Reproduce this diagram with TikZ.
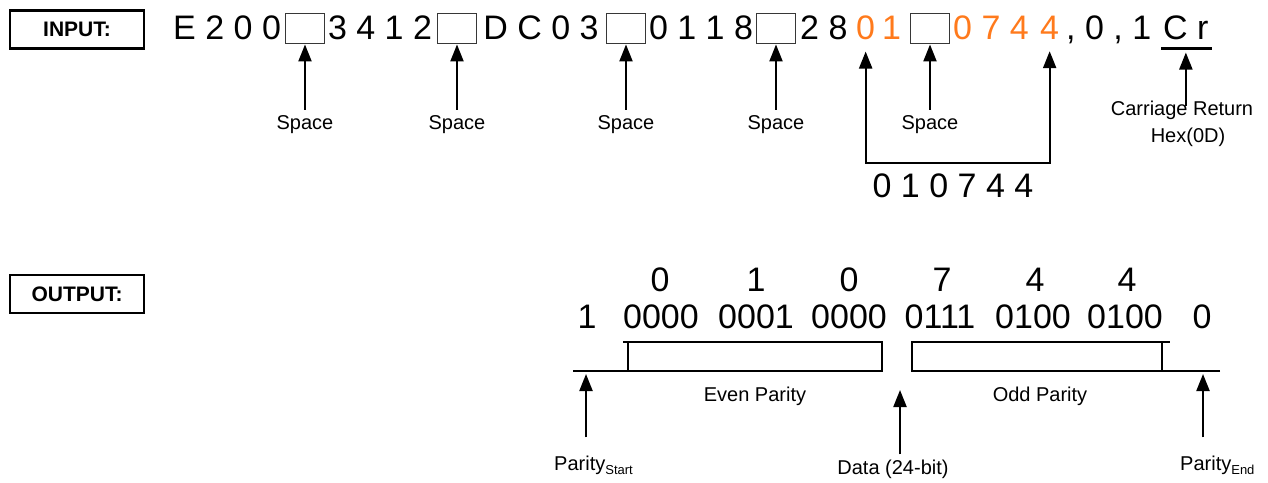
\documentclass[tikz,border=0pt]{standalone}
\usepackage{fontspec}
\setmainfont{Liberation Sans}
\usetikzlibrary{arrows.meta}
\definecolor{orng}{RGB}{255,122,28}
\definecolor{boxgray}{RGB}{55,55,55}
\begin{document}
\begin{tikzpicture}[x=1pt,y=-1pt,
  hdr/.style={draw,line width=2.6pt,minimum width=134pt,minimum height=38pt,inner sep=0pt,font=\fontsize{21}{24}\selectfont\bfseries},
  seq/.style={inner sep=0pt,anchor=base west,font=\fontsize{34}{40}\selectfont},
  num/.style={inner sep=0pt,font=\fontsize{34}{40}\selectfont},
  spc/.style={draw=boxgray,line width=1.9pt,minimum width=39pt,minimum height=30pt,inner sep=0pt},
  lbl/.style={inner sep=0pt,font=\fontsize{20}{22}\selectfont},
  arr/.style={line width=2.2pt,-{Triangle[length=17pt,width=13pt]}},
  bar/.style={line width=2.2pt}
]
\useasboundingbox (0,0) rectangle (1268,482);

% headers
\node[hdr] (inp) at (77,29.5) {INPUT:};
\node[hdr] (outp) at (77,294) {OUTPUT:};

% input sequence
\node[seq] (t1) at (173,39) {E 2 0 0};
\node[spc] (b1) at (305,28.5) {};
\node[seq,anchor=base] (t2) at (380,39) {3 4 1 2};
\node[spc] (b2) at (457,28.5) {};
\node[seq,anchor=base] (t3) at (541,39) {D C 0 3};
\node[spc] (b3) at (626,28.5) {};
\node[seq,anchor=base] (t4) at (701,39) {0 1 1 8};
\node[spc] (b4) at (776,28.5) {};
\node[seq] (t5) at (800,39) {2 8};
\node[seq,text=orng] (o1) at (856,39) {0};
\node[seq,text=orng] (o2) at (882,39) {1};
\node[spc] (b5) at (930,28.5) {};
\node[seq,text=orng] (o3) at (953,39) {0 7 4};
\node[seq,text=orng] (o4) at (1040,39) {4};
\node[seq] (t6) at (1066,39) {, 0 , 1};
\node[seq] (cr) at (1163,39) {C r};

% space labels
\foreach \i/\x in {1/305,2/457,3/626,4/776,5/930}{
  \node[lbl,anchor=base] (s\i) at (\x,129) {Space};
  \draw[arr] ([yshift=5pt]s\i.north) -- (b\i.south);
}

% 010744 bracket
\draw[bar,{Triangle[length=17pt,width=13pt]}-{Triangle[length=17pt,width=13pt]}]
  ([yshift=-12pt]o1.south) -- (o1.south |- 0,163) -- (o4.south |- 0,163) -- ([yshift=-12pt]o4.south);
\node[num] (hx) at (953,186) {0 1 0 7 4 4};

% carriage return
\draw[bar] ([xshift=-2pt,yshift=-9pt]cr.south west) -- ([xshift=3pt,yshift=-9pt]cr.south east);
\node[lbl,anchor=base] (c1) at (1182,115) {Carriage Return};
\node[lbl,anchor=base] (c2) at (1188,142) {Hex(0D)};
\draw[arr] ([yshift=-6pt]c1.north -| cr.south) -- ([yshift=-13pt]cr.south);

% output hex digits
\foreach \i/\x/\d in {1/660/0,2/756/1,3/849/0,4/942/7,5/1035/4,6/1127/4}{
  \node[num] (h\i) at (\x,280) {\d};
}
% binary row
\node[num] (p0) at (587,317) {1};
\foreach \i/\x/\d in {1/661/0000,2/756/0001,3/849/0000,4/940/0111,5/1033/0100,6/1125/0100}{
  \node[num] (n\i) at (\x,317) {\d};
}
\node[num] (p1) at (1202,317) {0};

% brackets
\draw[bar] (573,371) -- (882,371) -- (882,342) -- (623,342);
\draw[bar] (628,342) -- (628,371);
\draw[bar] (1220,371) -- (912,371) -- (912,342) -- (1170,342);
\draw[bar] (1162,342) -- (1162,371);

\node[lbl] (ev) at (755,396) {Even Parity};
\node[lbl] (od) at (1040,396) {Odd Parity};

% bottom labels and arrows
\coordinate (pst) at (586,374);
\coordinate (dt) at (900,390);
\coordinate (pet) at (1203,374);
\node[lbl,anchor=base west] (ps) at (554,470) {Parity\raisebox{-4pt}{\fontsize{13}{14}\selectfont Start}};
\node[lbl,anchor=base] (da) at (893,474) {Data (24-bit)};
\node[lbl,anchor=base west] (pe) at (1180,470) {Parity\raisebox{-4pt}{\fontsize{13}{14}\selectfont End}};
\draw[arr] ([yshift=18pt]ps.north -| pst) -- (pst);
\draw[arr] ([yshift=5pt]da.north -| dt) -- (dt);
\draw[arr] ([yshift=18pt]pe.north -| pet) -- (pet);
\end{tikzpicture}
\end{document}
